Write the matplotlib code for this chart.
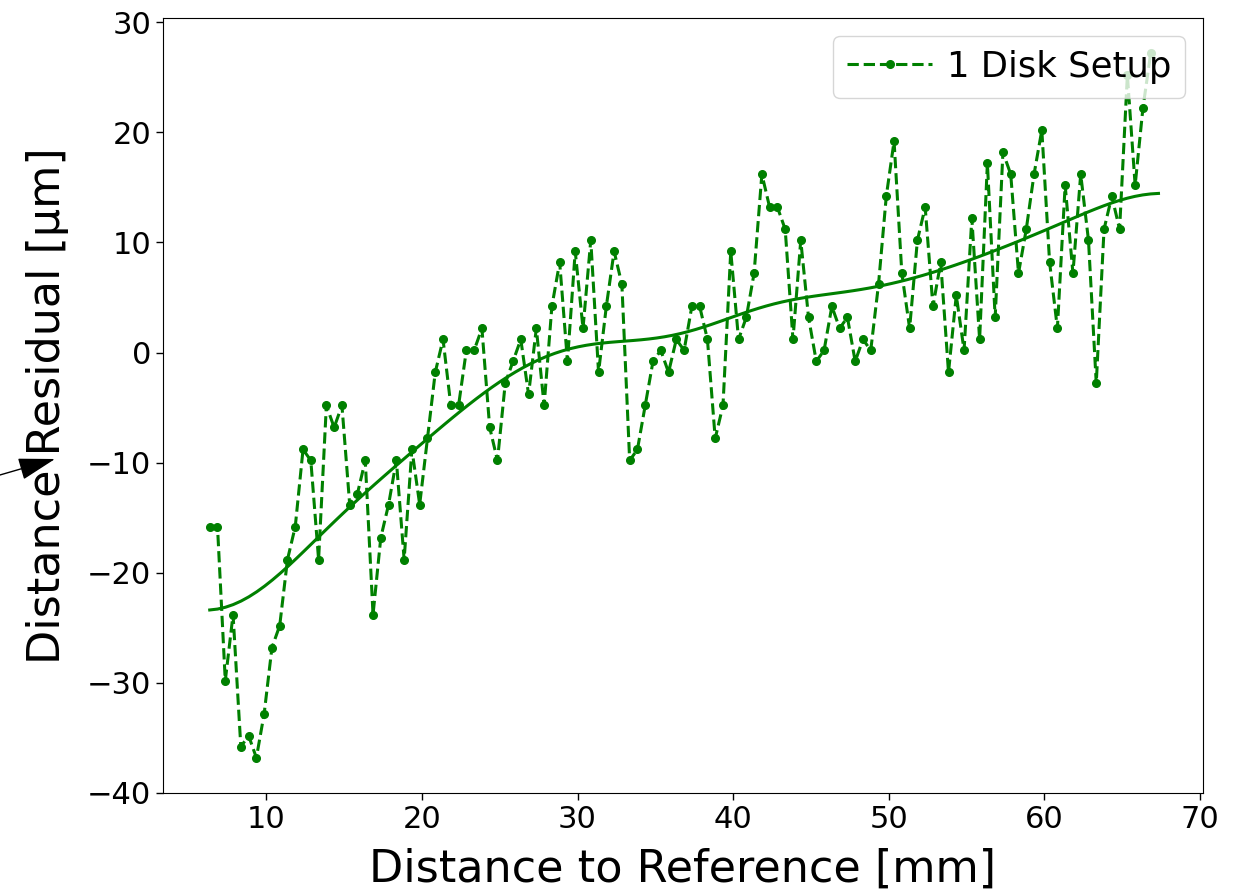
import numpy as np
import matplotlib
matplotlib.use("Agg")
import matplotlib.pyplot as plt

# Measurement positions along the part [mm]
distance_mm = [
    6.35, 6.85, 7.35, 7.85, 8.35, 8.85, 9.35, 9.85, 10.35, 10.85,
    11.35, 11.85, 12.35, 12.85, 13.35, 13.85, 14.35, 14.85, 15.35, 15.85,
    16.35, 16.85, 17.35, 17.85, 18.35, 18.85, 19.35, 19.85, 20.35, 20.85,
    21.35, 21.85, 22.35, 22.85, 23.35, 23.85, 24.35, 24.85, 25.35, 25.85,
    26.35, 26.85, 27.35, 27.85, 28.35, 28.85, 29.35, 29.85, 30.35, 30.85,
    31.35, 31.85, 32.35, 32.85, 33.35, 33.85, 34.35, 34.85, 35.35, 35.85,
    36.35, 36.85, 37.35, 37.85, 38.35, 38.85, 39.35, 39.85, 40.35, 40.85,
    41.35, 41.85, 42.35, 42.85, 43.35, 43.85, 44.35, 44.85, 45.35, 45.85,
    46.35, 46.85, 47.35, 47.85, 48.35, 48.85, 49.35, 49.85, 50.35, 50.85,
    51.35, 51.85, 52.35, 52.85, 53.35, 53.85, 54.35, 54.85, 55.35, 55.85,
    56.35, 56.85, 57.35, 57.85, 58.35, 58.85, 59.35, 59.85, 60.35, 60.85,
    61.35, 61.85, 62.35, 62.85, 63.35, 63.85, 64.35, 64.85, 65.35, 65.85,
    66.35, 66.85,
]

# Distance residuals of the single-disk setup [um]
residual_um = [
    -15.8, -15.8, -29.8, -23.8, -35.8, -34.8, -36.8, -32.8, -26.8, -24.8,
    -18.8, -15.8, -8.8, -9.8, -18.8, -4.8, -6.8, -4.8, -13.8, -12.8,
    -9.8, -23.8, -16.8, -13.8, -9.8, -18.8, -8.8, -13.8, -7.8, -1.8,
    1.2, -4.8, -4.8, 0.2, 0.2, 2.2, -6.8, -9.8, -2.8, -0.8,
    1.2, -3.8, 2.2, -4.8, 4.2, 8.2, -0.8, 9.2, 2.2, 10.2,
    -1.8, 4.2, 9.2, 6.2, -9.8, -8.8, -4.8, -0.8, 0.2, -1.8,
    1.2, 0.2, 4.2, 4.2, 1.2, -7.8, -4.8, 9.2, 1.2, 3.2,
    7.2, 16.2, 13.2, 13.2, 11.2, 1.2, 10.2, 3.2, -0.8, 0.2,
    4.2, 2.2, 3.2, -0.8, 1.2, 0.2, 6.2, 14.2, 19.2, 7.2,
    2.2, 10.2, 13.2, 4.2, 8.2, -1.8, 5.2, 0.2, 12.2, 1.2,
    17.2, 3.2, 18.2, 16.2, 7.2, 11.2, 16.2, 20.2, 8.2, 2.2,
    15.2, 7.2, 16.2, 10.2, -2.8, 11.2, 14.2, 11.2, 25.2, 15.2,
    22.2, 27.2,
]

series_label = "1 Disk Setup"
x_label = "Distance to Reference [mm]"
y_label = "Distance Residual [µm]"

x = np.asarray(distance_mm)
y = np.asarray(residual_um)


def gaussian_smooth(values, sigma, truncate=4.0):
    """Gaussian filter with half-sample symmetric (reflect) edges."""
    radius = int(truncate * sigma + 0.5)
    k = np.arange(-radius, radius + 1)
    kernel = np.exp(-0.5 * (k / sigma) ** 2)
    kernel /= kernel.sum()
    padded = np.concatenate([values[radius - 1::-1], values,
                             values[:-radius - 1:-1]])
    return np.convolve(padded, kernel, mode="valid")


# Smoothed trend of the residuals
y_trend = gaussian_smooth(y, sigma=9.0)
x_trend = np.linspace(x.min(), x.max() + 0.5, len(x))

fig = plt.figure(figsize=(12.4, 8.93), dpi=100)
ax = fig.add_axes([0.1315, 0.112, 0.8385, 0.868])

ax.plot(x, y, "--", color="green", marker="o", markersize=5.5,
        linewidth=2.2, label=series_label)
ax.plot(x_trend, y_trend, "-", color="green", linewidth=2.2)

ax.set_xlim(3.35, 70.2)
ax.set_ylim(-40.0, 30.4)
ax.set_xticks([10, 20, 30, 40, 50, 60, 70])
ax.set_yticks([-40, -30, -20, -10, 0, 10, 20, 30])
ax.tick_params(labelsize=22, length=5, width=1)

ax.set_xlabel(x_label, fontsize=32, labelpad=10)
ax.set_ylabel(y_label, fontsize=32, labelpad=13)
ax.legend(loc="upper right", fontsize=25.5, handlelength=2.4,
          handletextpad=0.4)

# Pointer arrow at the left margin
ax.annotate("", xy=(55, 434), xycoords="figure pixels",
            xytext=(-100, 389), textcoords="figure pixels",
            annotation_clip=False,
            arrowprops=dict(arrowstyle="-|>,head_length=0.8,head_width=0.24",
                            mutation_scale=29, color="black", lw=1,
                            shrinkA=0, shrinkB=0))

fig.savefig("out.png", dpi=100)
